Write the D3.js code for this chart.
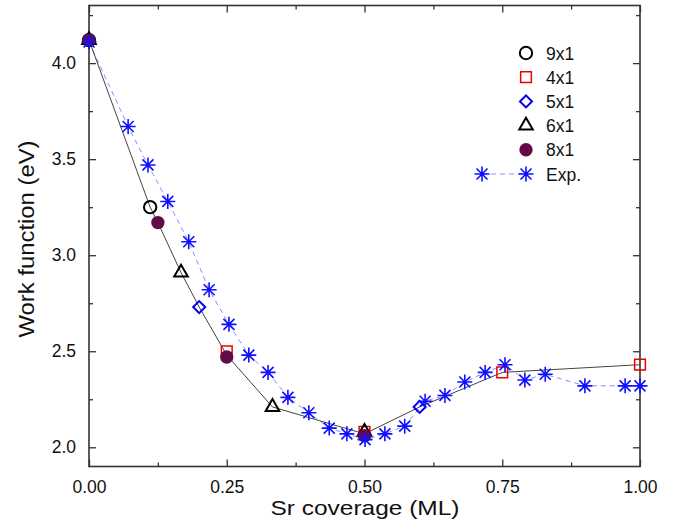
<!DOCTYPE html>
<html>
<head>
<meta charset="utf-8">
<script src="https://cdn.jsdelivr.net/npm/d3@7"></script>
<style>
body{margin:0;background:#fff;}
text{font-family:"Liberation Sans",Arial,Helvetica,sans-serif;}
</style>
</head>
<body>
<script>
// experiment
var expX = [0, 0.071, 0.107, 0.143, 0.181, 0.218, 0.254, 0.290, 0.325, 0.361, 0.399, 0.436, 0.468,
            0.501, 0.537, 0.573, 0.610, 0.646, 0.682, 0.719, 0.755, 0.791, 0.828, 0.900, 0.973, 1.0];
var expY = [4.11, 3.67, 3.47, 3.28, 3.07, 2.82, 2.64, 2.48, 2.39, 2.26, 2.18, 2.10, 2.07,
            2.04, 2.07, 2.11, 2.24, 2.27, 2.34, 2.39, 2.43, 2.35, 2.38, 2.32, 2.32, 2.32];

// calculated, by supercell
var x9 = [0, 0.111],               y9 = [4.12, 3.25];
var x4 = [0.25, 0.5, 0.75, 1.0],   y4 = [2.50, 2.08, 2.39, 2.43];
var x5 = [0.2, 0.6],               y5 = [2.73, 2.21];
var x6 = [0, 0.167, 0.333, 0.5],   y6 = [4.12, 2.91, 2.21, 2.08];
var x8 = [0, 0.125, 0.25, 0.5],    y8 = [4.12, 3.17, 2.47, 2.06];

// black guide line through the calculated values
var calcX = [0, 0.111, 0.125, 0.167, 0.2, 0.25, 0.333, 0.5, 0.6, 0.75, 1.0];
var calcY = [4.12, 3.25, 3.17, 2.91, 2.73, 2.48, 2.21, 2.07, 2.21, 2.39, 2.43];

var xMajor = [0, 0.25, 0.5, 0.75, 1.0];
var xMinor = [0.125, 0.375, 0.625, 0.875];
var yMajor = [2.0, 2.5, 3.0, 3.5, 4.0];
var yMinor = [2.25, 2.75, 3.25, 3.75, 4.25];

var legendNames = ["9x1", "4x1", "5x1", "6x1", "8x1", "Exp."];

var pLeft = 89, pRight = 640, pTop = 5.5, pBottom = 466.5;

var svg = d3.select("body").append("svg")
	.attr("width", 678)
	.attr("height", 522);

var x = d3.scaleLinear().domain([0, 1]).range([pLeft, pRight]);
var y = d3.scaleLinear().domain([1.9, 4.3]).range([pBottom, pTop]);

function pts(xs, ys){ return xs.map(function(d,i){ return [d, ys[i]]; }); }

// axes, ticks inward
function axis(gen, vals, size, fmt, tr, pad){
	var g = svg.append("g").attr("transform", tr)
		.call(gen.tickValues(vals).tickSizeInner(size).tickSizeOuter(0).tickPadding(pad || 12).tickFormat(fmt));
	g.select(".domain").remove();
	g.selectAll(".tick line").attr("stroke", "#333").attr("stroke-width", 1.3);
	g.attr("font-size", 17.5).attr("font-family", "'Liberation Sans',Arial,sans-serif");
	g.selectAll("text").attr("fill", "#111");
	return g;
}
axis(d3.axisBottom(x), xMajor, -7, d3.format(".2f"), "translate(0," + pBottom + ")", 14.5);
axis(d3.axisBottom(x), xMinor, -4, "", "translate(0," + pBottom + ")");
axis(d3.axisTop(x), xMajor, -7, "", "translate(0," + pTop + ")");
axis(d3.axisTop(x), xMinor, -4, "", "translate(0," + pTop + ")");
axis(d3.axisLeft(y), yMajor, -7, d3.format(".1f"), "translate(" + pLeft + ",0)", 13);
axis(d3.axisLeft(y), yMinor, -4, "", "translate(" + pLeft + ",0)");
axis(d3.axisRight(y), yMajor, -7, "", "translate(" + pRight + ",0)");
axis(d3.axisRight(y), yMinor, -4, "", "translate(" + pRight + ",0)");

svg.append("rect")
	.attr("x", pLeft).attr("y", pTop)
	.attr("width", pRight - pLeft).attr("height", pBottom - pTop)
	.attr("fill", "none").attr("stroke", "#333").attr("stroke-width", 1.6);

svg.append("text")
	.attr("x", 365).attr("y", 515)
	.attr("text-anchor", "middle").attr("font-size", 21).attr("fill", "#111")
	.attr("textLength", 189).attr("lengthAdjust", "spacingAndGlyphs")
	.text("Sr coverage (ML)");
svg.append("text")
	.attr("transform", "translate(34,239) rotate(-90)")
	.attr("text-anchor", "middle").attr("font-size", 22.5).attr("fill", "#111")
	.attr("textLength", 197).attr("lengthAdjust", "spacingAndGlyphs")
	.text("Work function (eV)");

var line = d3.line()
	.x(function(d){ return x(d[0]); })
	.y(function(d){ return y(d[1]); });

svg.append("path")
	.attr("d", line(pts(expX, expY)))
	.attr("fill", "none").attr("stroke", "#8c8cff").attr("stroke-width", 1)
	.attr("stroke-dasharray", "5,4");

svg.append("path")
	.attr("d", line(pts(calcX, calcY)))
	.attr("fill", "none").attr("stroke", "#444").attr("stroke-width", 1);

// marker drawing
var star = "M0,-7.5L0,7.5M-7.5,0L7.5,0M-5.5,-5.5L5.5,5.5M-5.5,5.5L5.5,-5.5";
var styles = [
	{d: d3.symbol(d3.symbolCircle, 120)(), fill: "none", stroke: "#000", sw: 2, rot: 0},
	{d: d3.symbol(d3.symbolSquare, 115)(), fill: "none", stroke: "#ee0000", sw: 1.5, rot: 0},
	{d: d3.symbol(d3.symbolSquare, 72)(), fill: "none", stroke: "#0000ee", sw: 2, rot: 45},
	{d: d3.symbol(d3.symbolTriangle, 80)(), fill: "none", stroke: "#000", sw: 2, rot: 0},
	{d: d3.symbol(d3.symbolCircle, 140)(), fill: "#640a46", stroke: "none", sw: 0, rot: 0},
	{d: star, fill: "none", stroke: "#1010ff", sw: 1.6, rot: 0}
];
var seriesX = [x9, x4, x5, x6, x8, expX];
var seriesY = [y9, y4, y5, y6, y8, expY];

seriesX.forEach(function(xs, k){
	var s = styles[k];
	svg.append("g").selectAll("path")
		.data(pts(xs, seriesY[k]))
		.enter().append("path")
		.attr("d", s.d)
		.attr("transform", function(d){ return "translate(" + x(d[0]) + "," + y(d[1]) + ") rotate(" + s.rot + ")"; })
		.attr("fill", s.fill).attr("stroke", s.stroke).attr("stroke-width", s.sw);
});

// legend
var lg = svg.append("g");
legendNames.forEach(function(name, i){
	var s = styles[i], ly = 53 + i * 24.2;
	if (i == 5) {
		lg.append("line").attr("x1", 482).attr("x2", 526).attr("y1", ly).attr("y2", ly)
			.attr("stroke", "#8c8cff").attr("stroke-dasharray", "5,4");
		lg.append("path").attr("d", s.d).attr("transform", "translate(482," + ly + ")")
			.attr("fill", "none").attr("stroke", s.stroke).attr("stroke-width", s.sw);
	}
	lg.append("path").attr("d", s.d)
		.attr("transform", "translate(526," + ly + ") rotate(" + s.rot + ")")
		.attr("fill", s.fill).attr("stroke", s.stroke).attr("stroke-width", s.sw);
	lg.append("text").attr("x", 546).attr("y", ly + 6.5)
		.attr("font-size", 17.5).attr("fill", "#111").text(name);
});
</script>
</body>
</html>
